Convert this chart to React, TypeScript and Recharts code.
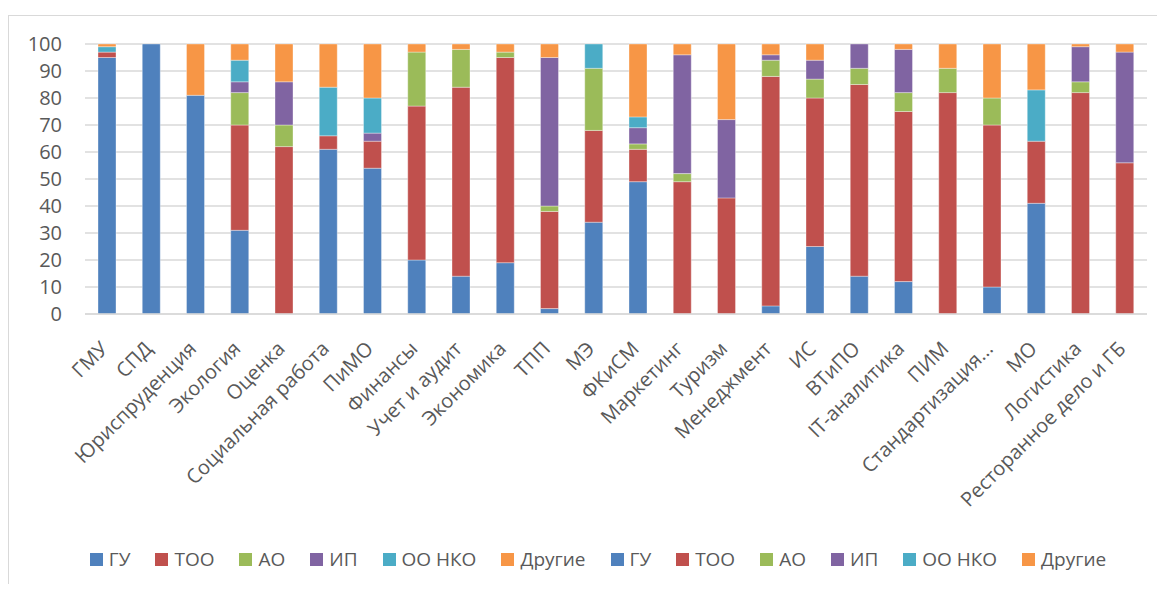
import { BarChart, Bar, XAxis, YAxis, CartesianGrid, Legend } from 'recharts'

const categories = [
  'ГМУ', 'СПД', 'Юриспруденция', 'Экология', 'Оценка', 'Социальная работа', 'ПиМО', 'Финансы',
  'Учет и аудит', 'Экономика', 'ТПП', 'МЭ', 'ФКиСМ', 'Маркетинг', 'Туризм', 'Менеджмент',
  'ИС', 'ВТиПО', 'IT-аналитика', 'ПИМ', 'Стандартизация...', 'МО', 'Логистика', 'Ресторанное дело и ГБ',
]

const gu = [95, 100, 81, 31, 0, 61, 54, 20, 14, 19, 2, 34, 49, 0, 0, 3, 25, 14, 12, 0, 10, 41, 0, 0]
const too = [2, 0, 0, 39, 62, 5, 10, 57, 70, 76, 36, 34, 12, 49, 43, 85, 55, 71, 63, 82, 60, 23, 82, 56]
const ao = [0, 0, 0, 12, 8, 0, 0, 20, 14, 2, 2, 23, 2, 3, 0, 6, 7, 6, 7, 9, 10, 0, 4, 0]
const ip = [0, 0, 0, 4, 16, 0, 3, 0, 0, 0, 55, 0, 6, 44, 29, 2, 7, 9, 16, 0, 0, 0, 13, 41]
const oonko = [2, 0, 0, 8, 0, 18, 13, 0, 0, 0, 0, 9, 4, 0, 0, 0, 0, 0, 0, 0, 0, 19, 0, 0]
const other = [1, 0, 19, 6, 14, 16, 20, 3, 2, 3, 5, 0, 27, 4, 28, 4, 6, 0, 2, 9, 20, 17, 1, 3]

const yTicks = [0, 10, 20, 30, 40, 50, 60, 70, 80, 90, 100]

const series = [
  { key: 'gu', name: 'ГУ', color: '#4f81bd' },
  { key: 'too', name: 'ТОО', color: '#c0504d' },
  { key: 'ao', name: 'АО', color: '#9bbb59' },
  { key: 'ip', name: 'ИП', color: '#8064a2' },
  { key: 'oonko', name: 'ОО НКО', color: '#4bacc6' },
  { key: 'other', name: 'Другие', color: '#f79646' },
]

const data = categories.map((name, i) => ({
  name,
  gu: gu[i],
  too: too[i],
  ao: ao[i],
  ip: ip[i],
  oonko: oonko[i],
  other: other[i],
}))

const FONT = '"Open Sans", sans-serif'
const TEXT = '#595959'

function AngledTick(props: any) {
  const { x, y, payload } = props
  const ax = x + 2
  const ay = y + 36
  return (
    <text
      x={ax}
      y={ay}
      transform={`rotate(-45, ${ax}, ${ay})`}
      textAnchor="end"
      fontSize={20}
      fontFamily={FONT}
      fill={TEXT}
    >
      {payload.value}
    </text>
  )
}

// the original legend lists every series twice, in series order
function DoubleLegend() {
  const items = [...series, ...series]
  return (
    <div
      style={{
        height: 40,
        paddingLeft: 40,
        boxSizing: 'border-box',
        display: 'flex',
        alignItems: 'center',
        justifyContent: 'center',
        fontFamily: FONT,
        fontSize: 19,
        color: TEXT,
      }}
    >
      {items.map((it, i) => (
        <div key={i} style={{ display: 'flex', alignItems: 'center', marginRight: i < items.length - 1 ? 25 : 0 }}>
          <span style={{ width: 13, height: 13, background: it.color, marginRight: 6, display: 'inline-block' }} />
          <span>{it.name}</span>
        </div>
      ))}
    </div>
  )
}

export default function App() {
  return (
    <div style={{ position: 'relative', top: 7 }}>
      <div style={{ borderTop: '1px solid #d9d9d9', borderLeft: '1px solid #d9d9d9', width: 1156, height: 575 }}>
        <BarChart
          width={1156}
          height={575}
          data={data}
          margin={{ top: 28, right: 18, left: 0, bottom: 12 }}
          barSize={18}
        >
          <CartesianGrid vertical={false} stroke="#d9d9d9" strokeWidth={1.5} />
          <XAxis
            dataKey="name"
            interval={0}
            height={225}
            tickLine={false}
            tickSize={0}
            tickMargin={0}
            axisLine={{ stroke: '#d9d9d9', strokeWidth: 1.5 }}
            tick={<AngledTick />}
          />
          <YAxis
            width={76}
            domain={[0, 100]}
            ticks={yTicks}
            interval={0}
            axisLine={false}
            tickLine={false}
            tickMargin={17}
            tick={{ fontSize: 20, fontFamily: FONT, fill: TEXT }}
          />
          <Legend verticalAlign="bottom" height={40} content={<DoubleLegend />} />
          {series.map((s) => (
            <Bar
              key={s.key}
              dataKey={s.key}
              name={s.name}
              stackId="a"
              fill={s.color}
              stroke="#ffffff"
              strokeOpacity={0.35}
              strokeWidth={1}
              isAnimationActive={false}
            />
          ))}
        </BarChart>
      </div>
    </div>
  )
}
